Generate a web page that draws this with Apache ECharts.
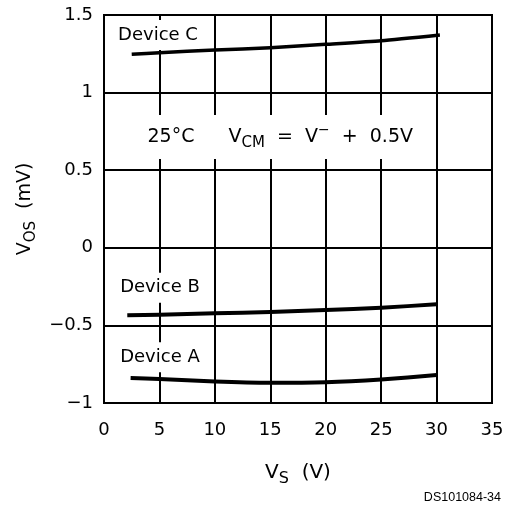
<!DOCTYPE html>
<html>
<head>
<meta charset="utf-8">
<script src="https://cdn.jsdelivr.net/npm/echarts@6/dist/echarts.min.js"></script>
<style>
  html, body { margin: 0; padding: 0; background: #fff; }
  #chart { width: 507px; height: 506px; }
</style>
</head>
<body>
<div id="chart"></div>
<script>
// Offset voltage vs supply voltage, three devices
const vsC = [2.5, 5, 10, 15, 20, 25, 30.3];
const deviceC = [1.247, 1.257, 1.274, 1.289, 1.311, 1.334, 1.371];
const vsB = [2.1, 5, 10, 15, 20, 25, 30];
const deviceB = [-0.435, -0.431, -0.422, -0.414, -0.401, -0.386, -0.364];
const vsA = [2.4, 5, 10, 15, 20, 25, 30];
const deviceA = [-0.839, -0.845, -0.862, -0.870, -0.866, -0.848, -0.820];

// Label anchors in data coordinates
const curveLabels = [
  { text: 'Device C', at: [4.87, 1.371] },
  { text: 'Device B', at: [5.05, -0.257] },
  { text: 'Device A', at: [5.05, -0.706] }
];

const FONT = 'DejaVu Sans';
const INK = '#000';

function pairs(xs, ys) { return xs.map((x, i) => [x, ys[i]]); }

function curve(name, xs, ys, width) {
  return {
    name: name,
    type: 'line',
    data: pairs(xs, ys),
    smooth: 0.2,
    symbol: 'none',
    lineStyle: { color: INK, width: width, cap: 'butt', join: 'round' },
    z: 4
  };
}

const chart = echarts.init(document.getElementById('chart'), null, { renderer: 'canvas' });

chart.setOption({
  animation: false,
  backgroundColor: '#fff',
  grid: {
    left: 104, right: 15, top: 15, bottom: 103,
    show: true, borderColor: INK, borderWidth: 2, backgroundColor: 'transparent'
  },
  xAxis: {
    type: 'value', min: 0, max: 35, interval: 5,
    axisLine: { show: true, lineStyle: { color: INK, width: 2 } },
    axisTick: { show: false },
    splitLine: { show: true, lineStyle: { color: INK, width: 2 } },
    axisLabel: { color: INK, fontFamily: FONT, fontSize: 18, margin: 18 },
    name: '{v|V}{s|S}{v|  (V)}',
    nameLocation: 'middle',
    nameGap: 56,
    nameTextStyle: {
      rich: {
        v: { fontFamily: FONT, fontSize: 20, color: INK },
        s: { fontFamily: FONT, fontSize: 16, color: INK, padding: [12, 0, 0, 0] }
      }
    }
  },
  yAxis: {
    type: 'value', min: -1, max: 1.5, interval: 0.5,
    axisLine: { show: true, lineStyle: { color: INK, width: 2 } },
    axisTick: { show: false },
    splitLine: { show: true, lineStyle: { color: INK, width: 2 } },
    axisLabel: {
      color: INK, fontFamily: FONT, fontSize: 18, margin: 11,
      formatter: v => String(v).replace('-', '\u2212')
    },
    name: '{v|V}{s|OS}{v|  (mV)}',
    nameLocation: 'middle',
    nameRotate: 90,
    nameGap: 64,
    nameTextStyle: {
      rich: {
        v: { fontFamily: FONT, fontSize: 19, color: INK },
        s: { fontFamily: FONT, fontSize: 15, color: INK, padding: [12, 0, 0, 0] }
      }
    }
  },
  series: [
    curve('Device C', vsC, deviceC, 3.5),
    curve('Device B', vsB, deviceB, 4),
    curve('Device A', vsA, deviceA, 4)
  ]
});

// Text annotations placed from data coordinates
const graphics = curveLabels.map(l => {
  const p = chart.convertToPixel({ gridIndex: 0 }, l.at);
  return {
    type: 'text', x: p[0], y: p[1], z: 3,
    style: {
      text: l.text, fill: INK, font: '18px "' + FONT + '"',
      align: 'center', verticalAlign: 'middle',
      backgroundColor: '#fff', padding: [6, 4, 6, 4]
    }
  };
});

const condAt = chart.convertToPixel({ gridIndex: 0 }, [15.9, 0.714]);
graphics.push({
  type: 'text', x: condAt[0], y: condAt[1], z: 3,
  style: {
    text: '{t|25°C}{g|}{t|V}{s|CM}{t|  =  V}{u|\u2212}{t|  +  0.5V}',
    align: 'center', verticalAlign: 'middle',
    backgroundColor: '#fff', padding: [8, 6, 8, 6],
    rich: {
      t: { fontFamily: FONT, fontSize: 19, fill: INK, color: INK },
      g: { width: 34 },
      s: { fontFamily: FONT, fontSize: 15, fill: INK, color: INK, padding: [12, 0, 0, 0] },
      u: { fontFamily: FONT, fontSize: 14, fill: INK, color: INK, padding: [0, 0, 14, 0] }
    }
  }
});

graphics.push({
  type: 'text', right: 6, bottom: 2, z: 3,
  style: { text: 'DS101084-34', fill: INK, font: '12.5px "Liberation Sans"' }
});

chart.setOption({ graphic: graphics });
</script>
</body>
</html>
